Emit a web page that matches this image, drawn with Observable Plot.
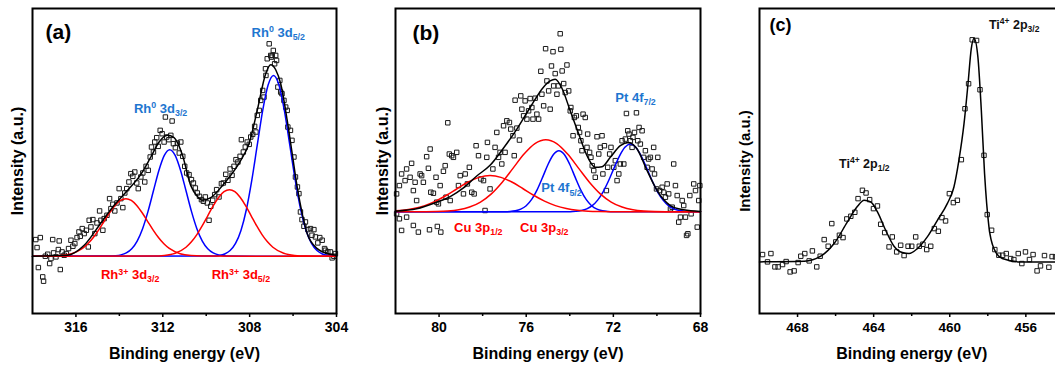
<!DOCTYPE html>
<html><head><meta charset="utf-8">
<script src="https://cdn.jsdelivr.net/npm/d3@7"></script>
<script src="https://cdn.jsdelivr.net/npm/@observablehq/plot@0.6"></script>
<style>
html,body{margin:0;padding:0;background:#fff;overflow:hidden;}
#wrap{position:relative;width:1055px;height:369px;overflow:hidden;background:#fff;}
.panel{position:absolute;top:0;}
.panel svg{max-width:none !important;}
</style></head><body><div id="wrap"></div>
<script>
// ---------- Panel (a): Rh 3d ----------
const aTicks = [316, 312, 308, 304];
const aMinorTicks = [314, 310, 306];
const aScatter = [[317.85,50],[317.64,56],[317.79,26],[317.73,-34],[317.53,-62],[317.49,-75],[317.41,0],[317.30,6],[317.21,-22],[317.15,-7],[317.07,50],[317.03,10],[316.92,-2],[316.81,20],[316.77,46],[316.72,-40],[316.64,13],[316.54,3],[316.44,8],[316.34,23],[316.23,48],[316.14,30],[316.05,38],[315.95,56],[315.86,73],[315.80,60],[315.71,83],[315.62,68],[315.52,78],[315.43,28],[315.39,108],[315.31,88],[315.22,110],[315.13,68],[315.03,100],[314.91,136],[314.85,108],[314.76,78],[314.70,113],[314.57,123],[314.45,173],[314.39,143],[314.30,156],[314.21,136],[314.11,160],[314.01,203],[313.93,173],[313.84,146],[313.75,190],[313.66,203],[313.56,223],[313.47,248],[313.38,240],[313.29,253],[313.20,220],[313.13,203],[313.01,238],[312.92,250],[312.83,223],[312.77,270],[312.67,258],[312.58,298],[312.52,328],[312.43,313],[312.37,343],[312.28,356],[312.21,330],[312.12,378],[312.03,368],[311.94,343],[311.88,418],[311.82,358],[311.72,350],[311.63,363],[311.57,406],[311.51,338],[311.42,326],[311.33,340],[311.24,310],[311.17,343],[311.08,300],[310.99,270],[310.90,250],[310.79,245],[310.68,230],[310.59,220],[310.50,205],[310.41,190],[310.31,180],[310.22,170],[310.13,165],[310.04,178],[309.95,160],[309.87,108],[309.79,150],[309.70,168],[309.61,185],[309.52,200],[309.41,178],[309.30,218],[309.21,220],[309.10,246],[309.00,228],[308.90,262],[308.81,243],[308.72,270],[308.63,290],[308.54,283],[308.44,300],[308.38,350],[308.29,313],[308.20,328],[308.11,343],[308.02,336],[307.95,358],[307.86,366],[307.77,390],[307.71,373],[307.65,423],[307.56,438],[307.49,468],[307.40,498],[307.34,478],[307.27,563],[307.25,543],[307.19,593],[307.10,638],[307.03,603],[307.00,598],[306.96,603],[306.91,618],[306.85,578],[306.80,603],[306.76,588],[306.70,508],[306.61,528],[306.57,493],[306.51,488],[306.42,468],[306.34,448],[306.27,438],[306.24,388],[306.12,378],[306.05,348],[305.96,298],[305.89,238],[305.80,208],[305.73,188],[305.66,133],[305.59,110],[305.50,90],[305.43,103],[305.32,80],[305.20,83],[305.13,63],[305.04,80],[304.97,58],[304.86,40],[304.77,56],[304.66,48],[304.55,23],[304.51,18],[304.40,13],[304.28,13],[304.20,-5],[304.12,0],[304.05,8]];
const aRh3plus3d32 = [[318,0],[317.2,0.4],[316.7,1.9],[316.2,7.6],[315.7,23.4],[315.45,37.4],[315.2,56.2],[314.95,79.2],[314.7,104.9],[314.45,130.6],[314.2,152.7],[313.95,167.6],[313.7,173],[313.45,167.6],[313.2,152.7],[312.95,130.6],[312.7,104.9],[312.45,79.2],[312.2,56.2],[311.95,37.4],[311.7,23.4],[311.2,7.6],[310.7,1.9],[310.2,0.4],[304,0]];
const aRh0_3d32 = [[318,0],[314.43,0.4],[314.18,1.4],[313.93,4],[313.68,10],[313.43,22.6],[313.18,45.6],[312.93,82.7],[312.68,134.7],[312.43,196.5],[312.18,257.6],[311.93,303],[311.68,320],[311.43,303],[311.18,257.6],[310.93,196.5],[310.68,134.7],[310.43,82.7],[310.18,45.6],[309.93,22.6],[309.68,10],[309.43,4],[309.18,1.4],[308.93,0.4],[304,0]];
const aRh3plus3d52 = [[318,0],[312.43,0.4],[311.93,2.2],[311.43,8.8],[310.93,27.1],[310.68,43.3],[310.43,64.9],[310.18,91.6],[309.93,121.3],[309.68,151],[309.43,176.5],[309.18,193.8],[308.93,200],[308.68,193.8],[308.43,176.5],[308.18,151],[307.93,121.3],[307.68,91.6],[307.43,64.9],[307.18,43.3],[306.93,27.1],[306.43,8.8],[305.93,2.2],[305.43,0.4],[304,0]];
const aRh0_3d52 = [[318,0],[309.65,0.8],[309.40,2.4],[309.15,6.8],[308.90,17],[308.65,38.3],[308.40,77.4],[308.15,140.4],[307.90,228.6],[307.65,333.4],[307.40,437.1],[307.15,514.2],[306.90,543],[306.65,514.2],[306.40,437.1],[306.15,333.4],[305.90,228.6],[305.65,140.4],[305.40,77.4],[305.15,38.3],[304.90,17],[304.65,6.8],[304.40,2.4],[304.15,0.8],[304,0]];
const aEnvelope = [[318,0],[316.4,3],[315.62,33],[314.85,100],[314.24,153],[313.62,198],[313.01,246],[312.55,298],[312.17,343],[311.79,363],[311.48,356],[311.10,305],[310.71,212],[310.41,180],[310.18,168],[309.79,176],[309.18,218],[308.41,288],[308.03,338],[307.65,438],[307.26,548],[307.03,575],[306.80,560],[306.57,518],[306.27,408],[306.04,308],[305.81,208],[305.58,128],[305.35,68],[304.89,23],[304.28,6],[304,3]];

// ---------- Panel (b): Pt 4f / Cu 3p ----------
const bTicks = [80, 76, 72, 68];
const bMinorTicks = [78, 74, 70];
const bScatter = [[81.82,79],[81.95,54],[81.72,114],[81.56,94],[81.49,129],[81.33,104],[81.26,146],[81.18,64],[81.10,89],[81.03,34],[80.87,114],[80.80,109],[80.72,89],[80.57,166],[80.49,131],[80.41,189],[80.38,59],[80.26,56],[80.14,104],[80.11,29],[80.03,24],[79.95,79],[79.80,122],[79.72,139],[79.68,44],[79.60,268],[79.53,174],[79.49,34],[79.42,169],[79.34,164],[79.19,179],[79.11,79],[79.03,109],[78.88,54],[78.80,114],[78.70,84],[78.61,134],[78.50,59],[78.39,54],[78.30,199],[78.19,169],[78.08,99],[77.96,94],[77.89,4],[77.81,164],[77.78,209],[77.66,69],[77.53,129],[77.43,194],[77.35,239],[77.27,164],[77.20,179],[77.12,144],[77.04,259],[76.97,179],[76.89,274],[76.77,269],[76.71,249],[76.61,229],[76.55,169],[76.51,336],[76.43,252],[76.31,216],[76.25,349],[76.20,309],[76.12,289],[76.05,334],[75.97,279],[75.89,304],[75.82,341],[75.74,314],[75.69,279],[75.59,342],[75.51,294],[75.43,279],[75.33,423],[75.28,354],[75.20,319],[75.11,491],[75.05,394],[74.97,364],[74.90,309],[74.84,439],[74.77,482],[74.74,379],[74.67,416],[74.59,354],[74.53,379],[74.44,536],[74.41,489],[74.35,424],[74.28,386],[74.21,359],[74.13,442],[74.05,364],[73.98,304],[73.95,314],[73.85,229],[73.79,284],[73.70,289],[73.61,254],[73.55,239],[73.49,214],[73.44,184],[73.39,294],[73.29,284],[73.21,194],[73.18,234],[73.09,179],[73.03,164],[72.97,139],[72.90,124],[72.83,104],[72.75,226],[72.67,174],[72.60,194],[72.52,229],[72.48,114],[72.41,199],[72.32,64],[72.26,134],[72.17,174],[72.11,194],[71.98,134],[71.91,154],[71.83,94],[71.75,114],[71.68,144],[71.60,214],[71.52,144],[71.45,219],[71.40,296],[71.34,244],[71.28,234],[71.22,214],[71.14,194],[71.10,224],[71.03,239],[70.94,298],[70.88,214],[70.82,254],[70.76,204],[70.68,244],[70.61,164],[70.53,184],[70.45,134],[70.38,159],[70.30,164],[70.22,129],[70.15,194],[70.11,114],[70.02,69],[69.96,164],[69.87,64],[69.76,74],[69.69,59],[69.61,44],[69.53,84],[69.46,54],[69.38,9],[69.30,14],[69.23,144],[69.15,79],[69.07,49],[69.00,-31],[68.92,-16],[68.84,34],[68.77,19],[68.69,-16],[68.64,-71],[68.58,-66],[68.49,49],[68.43,-6],[68.31,84],[68.23,64],[68.15,-46],[68.08,34],[68.03,79],[81.82,-21],[81.72,-56],[81.49,-16],[81.18,-41],[80.95,-61],[80.44,-54],[80.08,-44],[79.92,-61],[81.95,-6]];
const bCu3p12 = [[82,3.2],[81.66,4.8],[81.16,10],[80.66,18.8],[80.16,32.2],[79.66,49.9],[79.16,70.2],[78.66,89.7],[78.16,103.8],[77.66,109],[77.16,103.8],[76.66,89.7],[76.16,70.2],[75.66,49.9],[75.16,32.2],[74.66,18.8],[74.16,10],[73.66,4.8],[73.16,2.1],[72.66,0.8],[72.16,0.3],[68,0]];
const bCu3p32 = [[82,0],[80.6,0.3],[80.1,0.8],[79.6,2.4],[79.1,6.2],[78.6,14.3],[78.1,29.4],[77.6,54.1],[77.1,89.2],[76.6,131.6],[76.1,173.8],[75.6,205.3],[75.1,217],[74.6,205.3],[74.1,173.8],[73.6,131.6],[73.1,89.2],[72.6,54.1],[72.1,29.4],[71.6,14.3],[71.1,6.2],[70.6,2.4],[70.1,0.8],[69.6,0.3],[68,0]];
const bPt4f52 = [[82,0],[77.0,0.3],[76.75,1.0],[76.5,3.1],[76.25,8.1],[76.0,18.5],[75.75,37.4],[75.5,66.2],[75.25,103.6],[75.0,142.6],[74.75,172.6],[74.5,184],[74.25,172.6],[74.0,142.6],[73.75,103.6],[73.5,66.2],[73.25,37.4],[73.0,18.5],[72.75,8.1],[72.5,3.1],[72.25,1.0],[72.0,0.3],[68,0]];
const bPt4f72 = [[82,0],[73.97,0.6],[73.72,1.6],[73.47,3.9],[73.22,9.0],[72.97,18.6],[72.72,35.2],[72.47,60.2],[72.22,93.4],[71.97,131.5],[71.72,167.8],[71.47,194.2],[71.22,204],[70.97,194.2],[70.72,167.8],[70.47,131.5],[70.22,93.4],[69.97,60.2],[69.72,35.2],[69.47,18.6],[69.22,9.0],[68.97,3.9],[68.72,1.6],[68.47,0.6],[68,0]];
const bEnvelope = [[82,2],[81.03,9],[80.11,29],[79.49,46],[78.88,72],[78.27,108],[77.66,140],[77.04,192],[76.43,249],[75.82,314],[75.20,376],[74.90,394],[74.67,399],[74.36,372],[73.98,304],[73.59,234],[73.21,169],[72.83,134],[72.52,136],[72.14,164],[71.68,199],[71.30,209],[70.91,189],[70.45,124],[69.99,64],[69.38,19],[68.77,6],[68,1]];

// ---------- Panel (c): Ti 2p ----------
const cTicks = [468, 464, 460, 456];
const cMinorTicks = [466, 462, 458];
const cScatter = [[469.84,22],[469.58,0],[469.40,25],[469.19,-15],[469.02,-15],[468.79,-8],[468.60,1],[468.39,-30],[468.18,-27],[467.97,-2],[467.83,17],[467.62,25],[467.39,3],[467.22,33],[466.99,-15],[466.81,17],[466.60,67],[466.39,47],[466.20,115],[465.99,60],[465.80,80],[465.61,73],[465.41,129],[465.20,137],[464.99,149],[464.82,190],[464.59,215],[464.40,207],[464.21,187],[464.01,160],[463.80,168],[463.63,113],[463.42,88],[463.19,45],[463.02,75],[462.79,30],[462.58,50],[462.40,19],[462.19,47],[462.00,47],[461.79,75],[461.60,47],[461.41,53],[461.21,37],[461.00,47],[460.81,100],[460.60,92],[460.41,133],[460.22,123],[460.02,205],[459.81,178],[459.60,185],[459.39,307],[459.20,460],[459.01,535],[458.82,667],[458.59,665],[458.41,517],[458.20,320],[458.03,142],[457.80,95],[457.63,37],[457.42,20],[457.22,20],[457.03,25],[456.80,10],[456.63,7],[456.40,25],[456.21,-5],[456.02,30],[455.81,7],[455.62,22],[455.41,-27],[455.23,-12],[455.02,19],[454.79,-16],[454.62,16],[454.44,15]];
const cEnvelope = [[470,0],[467.65,2],[466.78,17],[466.08,55],[465.38,120],[464.85,167],[464.50,185],[464.15,180],[463.80,150],[463.37,95],[462.93,47],[462.49,28],[462.14,25],[461.70,40],[461.18,75],[460.65,125],[460.13,175],[459.78,225],[459.52,305],[459.25,415],[459.04,535],[458.87,640],[458.72,672],[458.52,615],[458.34,455],[458.17,265],[457.94,105],[457.68,40],[457.24,10],[456.28,0],[454,0]];

// ---------- Annotations (text, binding energy, intensity) ----------
const aLabels = [
  {t: "Rh^{0} 3d_{5/2}", x: 307.91, y: 671, c: "blue"},
  {t: "Rh^{0} 3d_{3/2}", x: 313.33, y: 443, c: "blue"},
  {t: "Rh^{3+} 3d_{3/2}", x: 314.85, y: -57, c: "red"},
  {t: "Rh^{3+} 3d_{5/2}", x: 309.75, y: -57, c: "red"}
];
const bLabels = [
  {t: "Pt 4f_{7/2}", x: 71.91, y: 344, c: "blue"},
  {t: "Pt 4f_{5/2}", x: 75.31, y: 71, c: "blue"},
  {t: "Cu 3p_{1/2}", x: 79.31, y: -49, c: "red"},
  {t: "Cu 3p_{3/2}", x: 76.28, y: -49, c: "red"}
];
const cLabels = [
  {t: "Ti^{4+} 2p_{3/2}", x: 457.94, y: 712, c: "black"},
  {t: "Ti^{4+} 2p_{1/2}", x: 465.82, y: 295, c: "black"}
];

const FONT = "'Liberation Sans', Arial, Helvetica, sans-serif";
const LABEL_COLORS = {blue: "#1e76d0", red: "#ff0000", black: "#111111"};

function richify(root) {
  root.querySelectorAll("text").forEach(t => {
    const s = t.textContent;
    if (!/[\^_]\{/.test(s)) return;
    const fs = parseFloat(getComputedStyle(t).fontSize) || 13;
    while (t.firstChild) t.removeChild(t.firstChild);
    const re = /([\^_])\{([^}]*)\}|([^\^_]+)/g;
    let m, shift = 0;
    while ((m = re.exec(s))) {
      const ts = document.createElementNS("http://www.w3.org/2000/svg", "tspan");
      let target = 0, size = null;
      if (m[3] !== undefined) { ts.textContent = m[3]; target = 0; }
      else { ts.textContent = m[2]; size = 0.68 * fs; target = m[1] === "^" ? -0.36 * fs : 0.24 * fs; }
      const dy = target - shift;
      if (dy) ts.setAttribute("dy", dy);
      shift = target;
      if (size) ts.setAttribute("font-size", size);
      t.appendChild(ts);
    }
  });
}

function makePanel(cfg) {
  const marks = [
    Plot.dot(cfg.scatter, {x: d => d[0], y: d => d[1], symbol: "square", r: 2.5, stroke: "#1a1a1a", strokeWidth: 1, fill: "none"})
  ];
  for (const comp of cfg.components) {
    marks.push(Plot.line(comp.data, {x: d => d[0], y: d => d[1], stroke: comp.color, strokeWidth: 1.5, curve: "monotone-x"}));
  }
  marks.push(Plot.line(cfg.envelope, {x: d => d[0], y: d => d[1], stroke: "#000", strokeWidth: 1.5, curve: "monotone-x"}));
  for (const l of cfg.labels) {
    marks.push(Plot.text([l], {x: "x", y: "y", text: "t", fill: LABEL_COLORS[l.c], textAnchor: "start", lineAnchor: "middle", fontSize: cfg.labelSize, fontWeight: "bold"}));
  }
  marks.push(
    Plot.axisX(cfg.ticks, {tickSize: 4, tickPadding: 5, fontSize: cfg.tickSize, fontWeight: "bold", label: null, strokeWidth: 1.5, tickFormat: d => String(d)}),
    Plot.axisX(cfg.minor, {tickSize: 3, tickPadding: 5, label: null, strokeWidth: 1.5, tickFormat: () => ""}),
    Plot.text(["Binding energy (eV)"], {frameAnchor: "bottom", textAnchor: "middle", lineAnchor: "middle", dy: 40, fontSize: 16, fontWeight: "bold"}),
    Plot.text(["Intensity (a.u.)"], {frameAnchor: "left", textAnchor: "middle", lineAnchor: "middle", rotate: -90, dx: cfg.ylabDx, fontSize: cfg.ylabSize, fontWeight: "bold"}),
    Plot.text([cfg.tag], {frameAnchor: "top-left", textAnchor: "start", lineAnchor: "middle", dx: cfg.tagDx, dy: cfg.tagDy, fontSize: cfg.tagSize, fontWeight: "bold"}),
    Plot.frame({stroke: "#000", strokeWidth: 2})
  );
  const svg = Plot.plot({
    width: cfg.width, height: 369,
    marginLeft: cfg.marginLeft, marginRight: cfg.marginRight, marginTop: 8, marginBottom: 56,
    x: {domain: cfg.xDomain},
    y: {domain: cfg.yDomain, axis: null},
    style: {fontFamily: FONT, background: "transparent", overflow: "visible", color: "#000", maxWidth: "none"},
    marks
  });
  svg.style.maxWidth = "none";
  svg.style.width = cfg.width + "px";
  svg.style.height = "369px";
  const holder = document.createElement("div");
  holder.className = "panel";
  holder.style.left = cfg.left + "px";
  holder.style.width = cfg.width + "px";
  holder.appendChild(svg);
  document.getElementById("wrap").appendChild(holder);
  richify(svg);
}

makePanel({
  left: 0, width: 350, marginLeft: 32, marginRight: 14,
  xDomain: [318, 304], yDomain: [-172, 744],
  ticks: aTicks, minor: aMinorTicks, tickSize: 14,
  scatter: aScatter,
  components: [
    {data: aRh0_3d32, color: "#0000ff"}, {data: aRh0_3d52, color: "#0000ff"},
    {data: aRh3plus3d32, color: "#ff0000"}, {data: aRh3plus3d52, color: "#ff0000"}
  ],
  envelope: aEnvelope, labels: aLabels, labelSize: 13,
  tag: "(a)", tagDx: 13, tagDy: 24, tagSize: 21, ylabDx: -15, ylabSize: 16
});
makePanel({
  left: 350, width: 370, marginLeft: 45, marginRight: 20,
  xDomain: [82, 68], yDomain: [-306, 612],
  ticks: bTicks, minor: bMinorTicks, tickSize: 14,
  scatter: bScatter,
  components: [
    {data: bPt4f52, color: "#0000ff"}, {data: bPt4f72, color: "#0000ff"},
    {data: bCu3p12, color: "#ff0000"}, {data: bCu3p32, color: "#ff0000"}
  ],
  envelope: bEnvelope, labels: bLabels, labelSize: 13,
  tag: "(b)", tagDx: 17, tagDy: 25, tagSize: 21, ylabDx: -13, ylabSize: 16
});
makePanel({
  left: 720, width: 350, marginLeft: 39, marginRight: 6.6,
  xDomain: [470, 454], yDomain: [-155, 761],
  ticks: cTicks, minor: cMinorTicks, tickSize: 13.5,
  scatter: cScatter,
  components: [],
  envelope: cEnvelope, labels: cLabels, labelSize: 12.5,
  tag: "(c)", tagDx: 10, tagDy: 17, tagSize: 18, ylabDx: -14, ylabSize: 15
});
</script></body></html>
